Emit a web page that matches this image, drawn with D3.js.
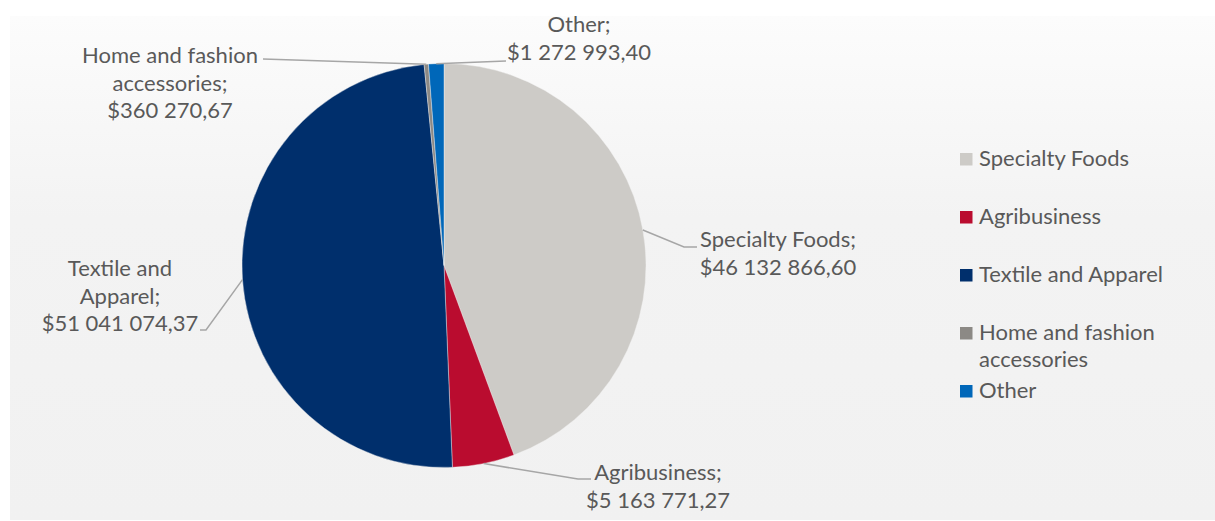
<!DOCTYPE html>
<html>
<head>
<meta charset="utf-8">
<script src="https://cdn.jsdelivr.net/npm/d3@7"></script>
<style>
  html, body { margin: 0; padding: 0; background: #ffffff; }
  svg { display: block; }
  text { font-family: Lato, "Open Sans", sans-serif; fill: #595959; }
</style>
</head>
<body>
<svg id="chart" width="1215" height="521"></svg>
<script>
// Export value by sector (USD)
const categories = ["Specialty Foods", "Agribusiness", "Textile and Apparel", "Home and fashion accessories", "Other"];
const values = [46132866.60, 5163771.27, 51041074.37, 360270.67, 1272993.40];
const colors = ["#cdcbc7", "#ba0c2f", "#002f6c", "#8c8985", "#0067b9"];

// Line breaks for slice labels and legend entries
const labelNames = [["Specialty Foods;"], ["Agribusiness;"], ["Textile and", "Apparel;"], ["Home and fashion", "accessories;"], ["Other;"]];
const legendNames = [["Specialty Foods"], ["Agribusiness"], ["Textile and Apparel"], ["Home and fashion", "accessories"], ["Other"]];

// Label placement: text centre x, first baseline y, leader elbow and end
const labelLayout = [
  { cx: 778, y: 247, elbow: [684, 247], end: [697, 247] },
  { cx: 658, y: 480, elbow: [578, 479], end: [591, 479] },
  { cx: 120, y: 276, elbow: [206, 330], end: [200, 330] },
  { cx: 170, y: 63,  elbow: null,        end: [263, 59] },
  { cx: 579, y: 32,  elbow: null,        end: [506, 61] }
];

const W = 1215, H = 521;
const svg = d3.select("#chart");

// Chart area background with a soft vertical gradient
const defs = svg.append("defs");
const grad = defs.append("linearGradient").attr("id", "bg").attr("x1", 0).attr("y1", 0).attr("x2", 0).attr("y2", 1);
grad.append("stop").attr("offset", "0%").attr("stop-color", "#fcfcfc");
grad.append("stop").attr("offset", "40%").attr("stop-color", "#f3f3f3");
grad.append("stop").attr("offset", "100%").attr("stop-color", "#f1f1f1");
svg.append("rect").attr("x", 10).attr("y", 16).attr("width", W - 10).attr("height", H - 17).attr("fill", "url(#bg)");

const cx = 444, cy = 265.5, R = 202;
const fmt = d3.formatLocale({ decimal: ",", thousands: " ", grouping: [3], currency: ["$", ""] }).format("$,.2f");

const data = categories.map((c, i) => ({ name: c, value: values[i], color: colors[i], i }));
const pie = d3.pie().value(d => d.value).sort(null);
const arcs = pie(data);
const arc = d3.arc().innerRadius(0).outerRadius(R);
const edgeArc = d3.arc().innerRadius(R).outerRadius(R);

const g = svg.append("g").attr("transform", `translate(${cx},${cy})`);
g.selectAll("path.slice").data(arcs).join("path")
  .attr("class", "slice")
  .attr("d", arc)
  .attr("fill", d => d.data.color)
  .attr("stroke", "#f2f2f2")
  .attr("stroke-width", 0.4);

// Leader lines from each slice edge midpoint to its label
const leaders = svg.append("g").attr("fill", "none").attr("stroke", "#a6a6a6").attr("stroke-width", 1.5);
arcs.forEach((a, i) => {
  const [ex, ey] = edgeArc.centroid(a);
  const L = labelLayout[i];
  const pts = [[cx + ex, cy + ey]];
  if (L.elbow) pts.push(L.elbow);
  pts.push(L.end);
  leaders.append("path").attr("d", d3.line()(pts));
});

// Slice labels: name and formatted value
const labels = svg.append("g").attr("font-size", 22).attr("text-anchor", "middle");
arcs.forEach((a, i) => {
  const L = labelLayout[i];
  const lines = labelNames[i].concat([fmt(a.data.value)]);
  const t = labels.append("text").attr("x", L.cx).attr("y", L.y);
  lines.forEach((s, k) => {
    t.append("tspan").attr("x", L.cx).attr("dy", k === 0 ? 0 : 27.5).text(s);
  });
});

// Legend
const legend = svg.append("g").attr("transform", "translate(960,153)");
data.forEach((d, i) => {
  const row = legend.append("g").attr("transform", `translate(0,${i * 58})`);
  row.append("rect").attr("width", 12.5).attr("height", 12.5).attr("fill", d.color);
  const t = row.append("text").attr("x", 19).attr("y", 12.8).attr("font-size", 22);
  legendNames[i].forEach((s, k) => {
    t.append("tspan").attr("x", 19).attr("dy", k === 0 ? 0 : 26.7).text(s);
  });
});
</script>
</body>
</html>
